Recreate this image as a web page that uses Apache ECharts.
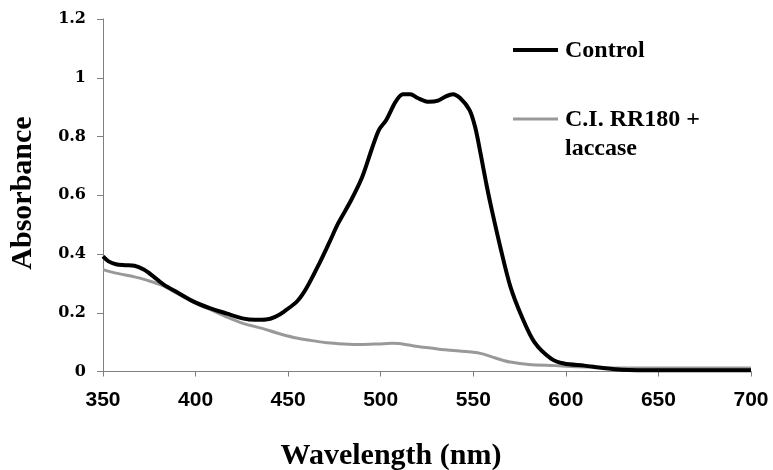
<!DOCTYPE html>
<html>
<head>
<meta charset="utf-8">
<script src="https://cdn.jsdelivr.net/npm/echarts@6/dist/echarts.min.js"></script>
<style>
html,body{margin:0;padding:0;background:#fff;}
#chart{width:773px;height:470px;}
</style>
</head>
<body>
<div id="chart"></div>
<script>
// Control spectrum (wavelength nm, absorbance)
var controlWl = [350,353,357,362,367,372,377,383,390,399,408,417,426,432,438,443,448,455,460,467,472,477,484,490,495,499,503,508,512,516,520,526,531,535,539,543,548,551,554,557,560,565,570,576,583,592,599,610,620,630,650,680,700];
var controlAbs = [0.392,0.375,0.365,0.362,0.36,0.347,0.325,0.295,0.27,0.238,0.215,0.197,0.18,0.176,0.177,0.186,0.205,0.24,0.285,0.37,0.436,0.504,0.583,0.662,0.754,0.822,0.856,0.918,0.944,0.944,0.931,0.918,0.922,0.936,0.944,0.93,0.89,0.832,0.74,0.64,0.55,0.413,0.29,0.19,0.1,0.044,0.027,0.02,0.012,0.006,0.004,0.004,0.004];
// C.I. RR180 + laccase spectrum
var laccaseWl = [350,357,367,374,382,390,400,409,417,426,436,444,453,462,471,480,489,499,506,510,516,520,527,535,549,555,560,565,570,580,594,606,620,650,700];
var laccaseAbs = [0.347,0.335,0.322,0.31,0.293,0.266,0.232,0.208,0.185,0.163,0.147,0.131,0.116,0.106,0.098,0.094,0.092,0.094,0.096,0.095,0.089,0.085,0.08,0.074,0.066,0.06,0.05,0.04,0.032,0.024,0.02,0.016,0.013,0.012,0.012];
var seriesNames = ['Control', 'C.I. RR180 + laccase'];
var xTitle = 'Wavelength (nm)';
var yTitle = 'Absorbance';

function pairs(xs, ys){ return xs.map(function(x,i){ return [x, ys[i]]; }); }

var chart = echarts.init(document.getElementById('chart'), null, {renderer:'canvas'});
var axisGray = '#808080';
chart.setOption({
  animation: false,
  backgroundColor: '#ffffff',
  grid: {left: 103, right: 22, top: 19, bottom: 98.5, containLabel: false},
  xAxis: {
    type: 'value', min: 350, max: 700, interval: 50,
    axisLine: {show: true, onZero: false, lineStyle: {color: axisGray, width: 1}},
    axisTick: {show: true, inside: false, length: 5, lineStyle: {color: axisGray}},
    splitLine: {show: false},
    axisLabel: {margin: 18, color: '#000', fontFamily: 'Liberation Sans', fontWeight: 'bold', fontSize: 21}
  },
  yAxis: {
    type: 'value', min: 0, max: 1.2, interval: 0.2,
    axisLine: {show: true, lineStyle: {color: axisGray, width: 1}},
    axisTick: {show: true, inside: false, length: 6, lineStyle: {color: axisGray}},
    splitLine: {show: false},
    axisLabel: {margin: 17, color: '#000', fontFamily: 'DejaVu Serif', fontWeight: 'bold', fontSize: 16,
      formatter: function(v){ return String(Math.round(v*10)/10); }}
  },
  series: [
    {name: seriesNames[1], type: 'line', data: pairs(laccaseWl, laccaseAbs), showSymbol: false, smooth: 0.3,
     lineStyle: {color: '#999999', width: 3}, z: 2},
    {name: seriesNames[0], type: 'line', data: pairs(controlWl, controlAbs), showSymbol: false, smooth: 0.3,
     lineStyle: {color: '#000000', width: 4}, z: 3}
  ],
  graphic: [
    {type: 'text', x: 23, y: 193, rotation: Math.PI/2,
     style: {text: yTitle, fontFamily: 'Liberation Serif', fontWeight: 'bold', fontSize: 30, fill: '#000', textAlign: 'center', textVerticalAlign: 'middle'}},
    {type: 'text', x: 391, y: 456,
     style: {text: xTitle, fontFamily: 'Liberation Serif', fontWeight: 'bold', fontSize: 30, fill: '#000', textAlign: 'center', textVerticalAlign: 'middle'}},
    {type: 'line', shape: {x1: 513, y1: 50, x2: 558, y2: 50}, style: {stroke: '#000', lineWidth: 4}},
    {type: 'text', x: 565, y: 51,
     style: {text: seriesNames[0], fontFamily: 'Liberation Serif', fontWeight: 'bold', fontSize: 24, fill: '#000', textAlign: 'left', textVerticalAlign: 'middle'}},
    {type: 'line', shape: {x1: 513, y1: 119, x2: 558, y2: 119}, style: {stroke: '#999999', lineWidth: 3}},
    {type: 'text', x: 565, y: 120,
     style: {text: 'C.I. RR180 +', fontFamily: 'Liberation Serif', fontWeight: 'bold', fontSize: 24, fill: '#000', textAlign: 'left', textVerticalAlign: 'middle'}},
    {type: 'text', x: 565, y: 149,
     style: {text: 'laccase', fontFamily: 'Liberation Serif', fontWeight: 'bold', fontSize: 24, fill: '#000', textAlign: 'left', textVerticalAlign: 'middle'}}
  ]
});
</script>
</body>
</html>
